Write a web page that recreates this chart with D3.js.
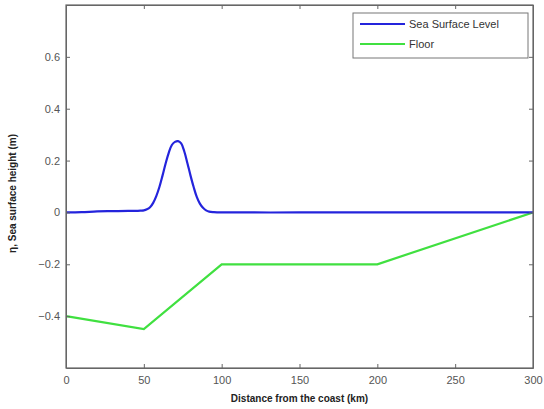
<!DOCTYPE html>
<meta charset="utf-8">
<style>
body { margin: 0; background: #fff; }
.axis text { font: 11px "Liberation Sans", Arial, sans-serif; fill: #555; }
.axis line, .axis path { stroke: #666; }
.lbl { font: bold 10px "Liberation Sans", Arial, sans-serif; fill: #222; }
.leg text { font: 11px "Liberation Sans", Arial, sans-serif; fill: #333; }
</style>
<body>
<svg width="544" height="409"></svg>
<script src="https://d3js.org/d3.v7.min.js"></script>
<script>

// sea surface level (km, m)
var seaX = [0, 10, 20, 30, 40, 45, 48, 50, 52, 54, 56, 58, 60, 62, 64, 66, 68, 70, 72, 74, 76, 78, 80, 82, 84, 86, 88, 90, 92, 95, 100, 150, 200, 250, 300];
var seaY = [0, 0.001, 0.004, 0.005, 0.006, 0.006, 0.007, 0.008, 0.012, 0.02, 0.037, 0.063, 0.098, 0.142, 0.189, 0.23, 0.26, 0.272, 0.275, 0.266, 0.235, 0.19, 0.142, 0.098, 0.06, 0.034, 0.018, 0.008, 0.003, 0.001, 0, 0, 0, 0, 0];

// sea floor (scaled)
var floorX = [0, 50, 100, 200, 300];
var floorY = [-0.4, -0.45, -0.2, -0.2, 0];

var xTicks = [0, 50, 100, 150, 200, 250, 300];
var yTicks = [-0.4, -0.2, 0, 0.2, 0.4, 0.6];

var series = ["Sea Surface Level", "Floor"];
var colors = ["#2424dc", "#40e040"];

var svg = d3.select("svg"),
    margin = {top: 5, right: 11, bottom: 41, left: 66},
    width = 544 - margin.left - margin.right,
    height = 409 - margin.top - margin.bottom;

var g = svg.append("g").attr("transform", "translate(" + margin.left + "," + margin.top + ")");

var x = d3.scaleLinear().domain([0, 300]).range([0, width]);
var y = d3.scaleLinear().domain([-0.6, 0.8]).range([height, 0]);

var line = d3.line()
    .x(function(d) { return x(d[0]); })
    .y(function(d) { return y(d[1]); });

var sea = seaX.map(function(v, i) { return [v, seaY[i]]; });
var floor = floorX.map(function(v, i) { return [v, floorY[i]]; });

g.append("path").datum(floor)
    .attr("fill", "none").attr("stroke", colors[1]).attr("stroke-width", 2.2)
    .attr("d", line);

g.append("path").datum(sea)
    .attr("fill", "none").attr("stroke", colors[0]).attr("stroke-width", 2.2)
    .attr("d", d3.line().curve(d3.curveCatmullRom).x(function(d) { return x(d[0]); }).y(function(d) { return y(d[1]); }));

// axes
g.append("g").attr("class", "axis")
    .attr("transform", "translate(0," + height + ")")
    .call(d3.axisBottom(x).tickValues(xTicks).tickSizeInner(-4).tickSizeOuter(0).tickPadding(8));

g.append("g").attr("class", "axis")
    .call(d3.axisLeft(y).tickValues(yTicks).tickFormat(function(d) { return d === 0 ? "0" : d3.format(".1f")(d); })
      .tickSizeInner(-4).tickSizeOuter(0).tickPadding(6));

g.append("g").attr("class", "axis")
    .call(d3.axisTop(x).tickValues(xTicks).tickSizeInner(-4).tickSizeOuter(0).tickFormat(""));

g.append("g").attr("class", "axis")
    .attr("transform", "translate(" + width + ",0)")
    .call(d3.axisRight(y).tickValues(yTicks).tickSizeInner(-4).tickSizeOuter(0).tickFormat(""));

g.append("rect")
    .attr("width", width).attr("height", height)
    .attr("fill", "none").attr("stroke", "#666").attr("stroke-width", 1.2);

// labels
svg.append("text").attr("class", "lbl")
    .attr("x", margin.left + width / 2).attr("y", 402)
    .attr("text-anchor", "middle")
    .text("Distance from the coast (km)");

svg.append("text").attr("class", "lbl")
    .attr("transform", "translate(16," + (margin.top + height / 2 + 7) + ") rotate(-90)")
    .attr("text-anchor", "middle")
    .text("η, Sea surface height (m)");

// legend
var leg = svg.append("g").attr("class", "leg").attr("transform", "translate(353,13)");
leg.append("rect").attr("width", 175).attr("height", 45)
    .attr("fill", "#fff").attr("stroke", "#777");
var items = leg.selectAll("g.it").data(series).enter().append("g")
    .attr("class", "it")
    .attr("transform", function(d, i) { return "translate(0," + (11 + i * 20) + ")"; });
items.append("line").attr("x1", 7).attr("x2", 52)
    .attr("stroke", function(d, i) { return colors[i]; }).attr("stroke-width", 2);
items.append("text").attr("x", 56).attr("dy", "0.35em").text(function(d) { return d; });

</script>
</body>
